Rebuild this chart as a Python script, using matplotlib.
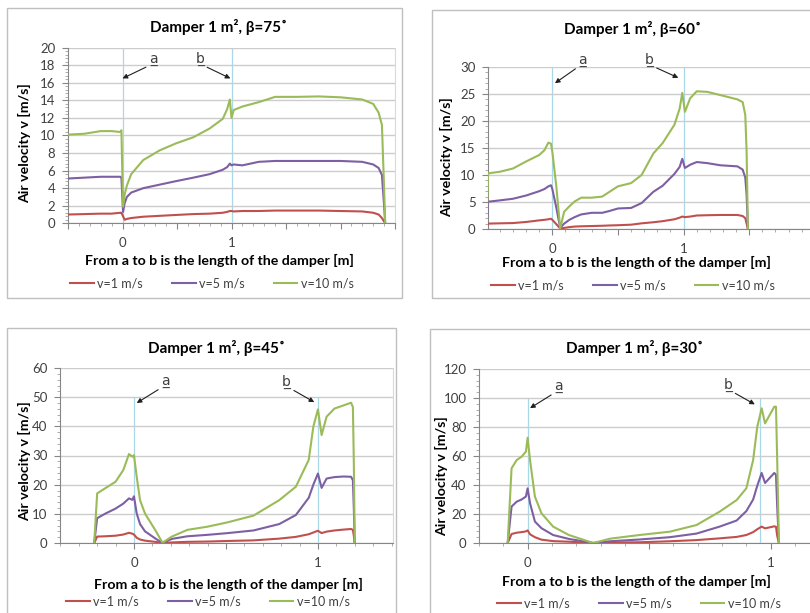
import numpy as np
import matplotlib.pyplot as plt
from matplotlib.patches import Rectangle
from matplotlib.ticker import MultipleLocator, FuncFormatter

plt.rcParams["font.family"] = ["Lato", "DejaVu Sans"]

# ---- data ----
# beta = 75
x75 = [-0.5, -0.35, -0.2, -0.1, -0.02, -0.01, 0.005, 0.02, 0.04, 0.08, 0.19, 0.34, 0.49,
       0.65, 0.8, 0.92, 0.96, 0.985, 1.0, 1.02, 1.1, 1.25, 1.4, 1.6, 1.8, 2.0, 2.2, 2.3,
       2.35, 2.38, 2.4, 2.41]
v1_75 = [1.0, 1.05, 1.1, 1.1, 1.2, 1.2, 0.8, 0.4, 0.5, 0.6, 0.75, 0.85, 0.95, 1.05, 1.1,
         1.2, 1.3, 1.4, 1.4, 1.35, 1.4, 1.4, 1.45, 1.45, 1.45, 1.4, 1.35, 1.2, 1.0, 0.6,
         0.2, 0.0]
v5_75 = [5.1, 5.2, 5.3, 5.3, 5.3, 5.2, 1.3, 2.3, 3.0, 3.5, 4.0, 4.4, 4.8, 5.2, 5.6, 6.1,
         6.4, 6.8, 6.6, 6.7, 6.6, 7.0, 7.1, 7.1, 7.1, 7.1, 7.0, 6.7, 6.3, 5.5, 2.0, 0.0]
v10_75 = [10.1, 10.2, 10.5, 10.5, 10.4, 10.6, 1.9, 3.3, 4.3, 5.6, 7.2, 8.3, 9.1, 9.8, 10.8,
          11.9, 13.0, 14.1, 12.0, 12.9, 13.3, 13.8, 14.4, 14.4, 14.45, 14.35, 14.1, 13.6,
          12.6, 11.2, 4.0, 0.0]

# beta = 60
x60 = [-0.5, -0.49, -0.4, -0.3, -0.2, -0.1, -0.06, -0.03, -0.01, 0.0, 0.03, 0.06, 0.09,
       0.13, 0.17, 0.22, 0.3, 0.38, 0.43, 0.5, 0.6, 0.68, 0.77, 0.84, 0.93, 0.97, 0.99,
       1.01, 1.05, 1.1, 1.18, 1.28, 1.41, 1.45, 1.47, 1.48, 1.49]
v1_60 = [0.4, 1.0, 1.05, 1.1, 1.3, 1.6, 1.7, 1.8, 1.9, 1.7, 0.9, 0.1, 0.2, 0.35, 0.45, 0.5,
         0.55, 0.6, 0.65, 0.7, 0.8, 1.05, 1.25, 1.45, 1.8, 2.1, 2.3, 2.2, 2.3, 2.5, 2.55,
         2.6, 2.6, 2.4, 2.0, 1.0, 0.0]
v5_60 = [0.8, 5.05, 5.3, 5.6, 6.2, 7.0, 7.4, 7.9, 8.1, 7.4, 4.0, 0.2, 1.0, 1.7, 2.2, 2.7,
         3.0, 3.0, 3.3, 3.8, 3.9, 4.8, 6.9, 8.0, 10.2, 11.5, 13.0, 11.3, 11.9, 12.4, 12.2,
         11.8, 11.6, 11.0, 9.5, 6.3, 0.0]
v10_60 = [1.0, 10.3, 10.6, 11.2, 12.5, 13.7, 14.6, 16.0, 15.8, 14.3, 8.0, 0.1, 3.2, 4.2,
          5.1, 5.8, 5.8, 6.0, 6.8, 7.9, 8.5, 10.0, 14.0, 15.9, 19.3, 22.3, 25.2, 21.7,
          24.2, 25.5, 25.4, 24.8, 24.0, 23.5, 21.1, 14.3, 0.0]

# beta = 45
x45 = [-0.216, -0.2, -0.158, -0.1, -0.058, -0.027, -0.009, 0.0, 0.015, 0.033, 0.06, 0.115,
       0.155, 0.206, 0.29, 0.4, 0.51, 0.65, 0.79, 0.88, 0.95, 0.975, 1.0, 1.02, 1.047,
       1.09, 1.14, 1.18, 1.19, 1.195, 1.2]
v1_45 = [0.0, 2.2, 2.3, 2.5, 2.9, 3.5, 3.2, 2.9, 1.8, 1.2, 0.8, 0.4, 0.0, 0.2, 0.4, 0.5,
         0.7, 0.9, 1.5, 2.1, 3.0, 3.6, 4.2, 3.4, 3.9, 4.3, 4.6, 4.8, 4.5, 2.5, 0.0]
v5_45 = [0.0, 8.5, 10.0, 11.8, 13.5, 15.3, 14.8, 16.0, 10.1, 6.5, 4.0, 1.6, 0.0, 1.4, 2.3,
         2.8, 3.4, 4.3, 6.5, 9.6, 15.5, 20.0, 23.8, 18.9, 22.1, 22.6, 22.8, 22.7, 21.5,
         12.0, 0.0]
v10_45 = [0.0, 17.0, 18.7, 21.0, 25.0, 30.5, 29.6, 30.1, 22.7, 14.7, 10.1, 4.5, 0.1, 2.2,
          4.5, 5.6, 7.1, 9.4, 14.7, 19.3, 28.5, 39.9, 45.8, 37.0, 43.3, 46.1, 47.2, 48.1,
          46.6, 28.0, 0.0]

# beta = 30
x30 = [-0.082, -0.066, -0.045, -0.025, -0.007, 0.0, 0.01, 0.03, 0.057, 0.105, 0.17, 0.27,
       0.34, 0.46, 0.585, 0.695, 0.79, 0.86, 0.9, 0.928, 0.945, 0.963, 0.977, 1.015,
       1.022, 1.027, 1.034]
v1_30 = [0.0, 6.2, 7.1, 7.5, 8.0, 8.7, 6.0, 4.0, 2.3, 1.3, 0.9, 0.0, 0.3, 0.5, 1.2, 2.0,
         3.2, 4.2, 5.5, 7.5, 9.5, 11.3, 10.1, 11.5, 11.2, 5.0, 0.0]
v5_30 = [0.0, 25.1, 28.5, 30.0, 32.0, 37.7, 27.4, 14.8, 10.2, 5.5, 2.8, 0.0, 1.2, 2.4, 4.0,
         6.5, 11.3, 15.5, 22.0, 30.0, 39.5, 48.3, 41.4, 48.3, 47.0, 25.0, 0.0]
v10_30 = [0.0, 51.5, 57.2, 59.5, 63.0, 72.6, 57.2, 32.0, 20.5, 11.3, 5.5, 0.0, 3.0, 5.5,
          7.8, 12.4, 21.6, 29.6, 37.7, 57.2, 80.2, 92.9, 82.5, 94.0, 94.0, 57.0, 0.0]

series_labels = ["v=1 m/s", "v=5 m/s", "v=10 m/s"]
series_colors = ["#C0504D", "#7D5FA3", "#9BBB59"]

# panel setup: pixel boxes of the plot areas and frames
panels = [
    dict(beta=75, x=x75, ys=[v1_75, v5_75, v10_75], ax_px=(68, 47.7, 395, 223.3),
         xlim=(-0.5, 2.5), ylim=(0, 20), ymaj=2, vl=(0.0, 1.0), vtop=20,
         a=((0.28, 18.7), (0.0, 16.5)), b=((0.71, 18.7), (0.99, 16.5)),
         frame=(7, 8, 402, 298), title=(219, 27), ylab=(25, 143), xlab=(219, 260),
         leg=(212, 283)),
    dict(beta=60, x=x60, ys=[v1_60, v5_60, v10_60], ax_px=(488, 67, 828, 229),
         xlim=(-0.49, 2.1), ylim=(0, 30), ymaj=5, vl=(0.0, 1.0), vtop=30,
         a=((0.23, 31.3), (0.02, 27.0)), b=((0.74, 31.3), (0.96, 28.0)),
         frame=(432, 10, 836, 298), title=(633, 29), ylab=(447, 157), xlab=(636, 262),
         leg=(633, 285)),
    dict(beta=45, x=x45, ys=[v1_45, v5_45, v10_45], ax_px=(60, 368, 393, 543),
         xlim=(-0.402, 1.408), ylim=(0, 60), ymaj=10, vl=(0.0, 1.0), vtop=50,
         a=((0.17, 55.5), (0.015, 48.0)), b=((0.83, 55.2), (0.98, 48.3)),
         frame=(7, 328, 396, 640), title=(216, 348), ylab=(25, 461), xlab=(228, 584),
         leg=(208, 601)),
    dict(beta=30, x=x30, ys=[v1_30, v5_30, v10_30], ax_px=(479, 369, 828, 543),
         xlim=(-0.2, 1.236), ylim=(0, 120), ymaj=20, vl=(0.0, 0.955), vtop=100,
         a=((0.126, 108), (0.01, 93)), b=((0.825, 109), (0.935, 95.6)),
         frame=(430, 329, 836, 640), title=(635, 348), ylab=(442, 476), xlab=(636, 581),
         leg=(639, 603)),
]

W, H = 810, 613
fig = plt.figure(figsize=(W / 100, H / 100), dpi=100)


def fx(px):
    return px / W


def fy(py):
    return 1 - py / H


def xfmt(v, pos):
    # only the two damper ends carry a label
    return "%d" % round(v) if abs(v) < 1e-9 or abs(v - 1) < 1e-9 else ""


for p in panels:
    l, t, r, b = p["frame"]
    fig.patches.append(Rectangle((fx(l), fy(b)), fx(r - l), (b - t) / H, transform=fig.transFigure,
                                 facecolor="none", edgecolor="#BFBFBF", lw=1.0, zorder=0))

    l, t, r, b = p["ax_px"]
    ax = fig.add_axes([fx(l), fy(b), fx(r - l), (b - t) / H])
    ax.set_facecolor("none")

    # reference lines for the damper ends
    for xv in p["vl"]:
        ax.plot([xv, xv], [0, p["vtop"]], color="#A8D8E8", lw=0.9, zorder=1)

    handles = []
    for ys, lab, col in zip(p["ys"], series_labels, series_colors):
        h, = ax.plot(p["x"], ys, color=col, lw=1.5, label=lab, zorder=3)
        handles.append(h)

    ax.set_xlim(*p["xlim"])
    ax.set_ylim(*p["ylim"])
    ax.yaxis.set_major_locator(MultipleLocator(p["ymaj"]))
    ax.yaxis.set_minor_locator(MultipleLocator(p["ymaj"] / 5))
    ax.xaxis.set_major_locator(MultipleLocator(0.5))
    ax.xaxis.set_major_formatter(FuncFormatter(xfmt))
    ax.xaxis.set_minor_locator(MultipleLocator(0.1))
    ax.grid(axis="y", color="#CCCCCC", lw=1.0, zorder=0)
    ax.tick_params(axis="both", which="major", labelsize=9.5, labelcolor="#404040",
                   color="#868686", length=4, width=0.8)
    ax.tick_params(axis="both", which="minor", color="#A0A0A0", length=2.5, width=0.6)
    ax.tick_params(axis="x", pad=6)
    ax.tick_params(axis="y", pad=5)
    ax.spines["top"].set_visible(False)
    ax.spines["right"].set_color("#D9D9D9")
    ax.spines["left"].set_color("#868686")
    ax.spines["bottom"].set_color("#868686")

    for letter, (txt_xy, tgt), rel in (("a", p["a"], (0.1, 0.05)), ("b", p["b"], (0.9, 0.05))):
        ax.annotate(letter + "\u0332", xy=tgt, xytext=txt_xy, ha="center", va="center",
                    fontsize=10, color="#404040", family="DejaVu Sans", annotation_clip=False,
                    arrowprops=dict(arrowstyle="-|>", color="#202020", lw=0.8,
                                    mutation_scale=7, shrinkA=0, shrinkB=0, relpos=rel))

    fig.text(fx(p["title"][0]), fy(p["title"][1]), "Damper 1 m\u00b2, \u03b2=%d\u02da" % p["beta"],
             ha="center", va="center", fontsize=11, fontweight="bold")
    fig.text(fx(p["ylab"][0]), fy(p["ylab"][1]), "Air velocity v [m/s]", rotation=90,
             ha="center", va="center", fontsize=10.2, fontweight="bold")
    fig.text(fx(p["xlab"][0]), fy(p["xlab"][1]), "From a to b is the length of the damper [m]",
             ha="center", va="center", fontsize=10.2, fontweight="bold")
    ax.legend(handles=handles, loc="center", ncol=3, frameon=False, fontsize=9,
              bbox_to_anchor=(fx(p["leg"][0]), fy(p["leg"][1])), bbox_transform=fig.transFigure,
              handlelength=1.9, handletextpad=0.3, columnspacing=2.3, labelcolor="#404040")

fig.savefig("out.png", dpi=100, facecolor="white")
